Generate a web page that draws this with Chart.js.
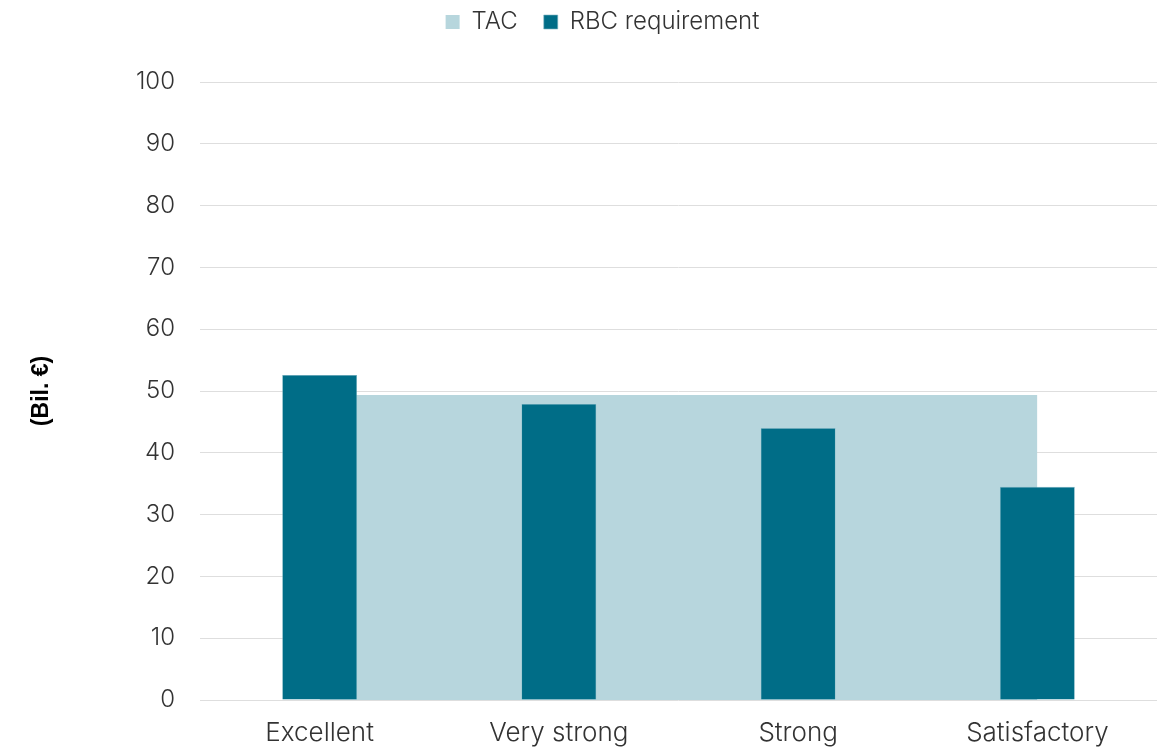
<!DOCTYPE html>
<html>
<head>
<meta charset="utf-8">
<script src="https://cdn.jsdelivr.net/npm/chart.js@4"></script>
<style>
  html, body { margin: 0; padding: 0; background: #fff; }
  #wrap { width: 1166px; height: 750px; }
</style>
</head>
<body>
<div id="wrap"><canvas id="capital"></canvas></div>
<script>
// rating categories and amounts in billions of euros
const ratings = ['Excellent', 'Very strong', 'Strong', 'Satisfactory'];
const tac = [49.35, 49.35, 49.35, 49.35];
const rbcRequirement = [52.6, 47.9, 44.0, 34.5];

// extra room under the legend, and nudge it a little to the right
const legendGap = {
  id: 'legendGap',
  beforeInit(chart) {
    const fit = chart.legend.fit;
    chart.legend.fit = function () {
      fit.bind(chart.legend)();
      this.height += 38;
    };
  },
  afterLayout(chart) {
    chart.legend.left += 24;
    chart.legend.right += 24;
  }
};

new Chart(document.getElementById('capital'), {
  type: 'bar',
  data: {
    labels: ratings,
    datasets: [
      {
        label: 'TAC',
        type: 'line',
        data: tac,
        backgroundColor: '#b7d6dd',
        borderColor: '#b7d6dd',
        borderWidth: 0,
        pointRadius: 0,
        tension: 0,
        fill: 'origin',
        order: 2
      },
      {
        label: 'RBC requirement',
        data: rbcRequirement,
        backgroundColor: '#006d87',
        borderColor: '#7fb6c4',
        borderWidth: 0.6,
        barPercentage: 1,
        categoryPercentage: 0.313,
        order: 1
      }
    ]
  },
  plugins: [legendGap],
  options: {
    responsive: true,
    maintainAspectRatio: false,
    animation: false,
    layout: { padding: { left: 0, right: 9, top: -16, bottom: 0 } },
    plugins: {
      tooltip: { enabled: false },
      legend: {
        position: 'top',
        labels: {
          boxWidth: 14,
          boxHeight: 14,
          padding: 26,
          color: '#333',
          font: { family: 'Inter', size: 24, weight: 300 },
          sort: (a, b) => a.datasetIndex - b.datasetIndex
        }
      }
    },
    scales: {
      x: {
        afterFit: s => { s.height = 50; },
        grid: { display: false, drawTicks: false },
        border: { display: false },
        ticks: { color: '#333', font: { family: 'Inter', size: 26, weight: 300 }, padding: 18 }
      },
      y: {
        min: 0,
        max: 100,
        afterFit: s => { s.width = 200; },
        ticks: { stepSize: 10, color: '#333', font: { family: 'Inter', size: 24, weight: 300 }, padding: 25 },
        grid: { color: '#dedede', lineWidth: 1, drawTicks: false },
        border: { display: false },
        title: {
          display: true,
          text: '(Bil. €)',
          color: '#000',
          font: { family: 'Liberation Sans', size: 23, weight: 'bold' },
          padding: { top: 28, bottom: 0 }
        }
      }
    }
  }
});
</script>
</body>
</html>
